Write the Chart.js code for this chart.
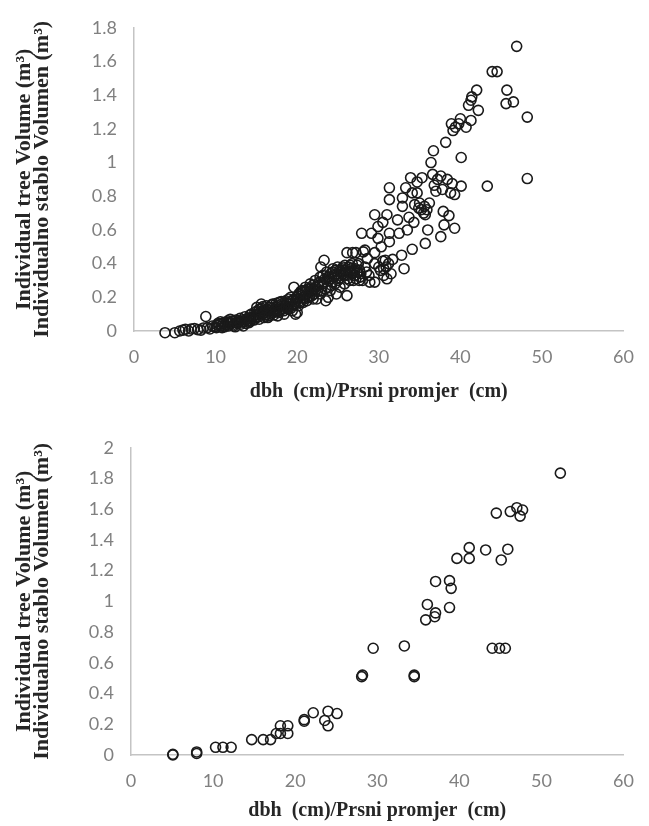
<!DOCTYPE html>
<html>
<head>
<meta charset="utf-8">
<script src="https://cdn.jsdelivr.net/npm/chart.js@4"></script>
<style>
  html, body { margin: 0; padding: 0; background: #fff; }
  #wrap { position: relative; width: 649px; height: 826px; }
  .box { position: absolute; left: 0; width: 649px; }
</style>
</head>
<body>
<div id="wrap">
  <div class="box" style="top:0;height:415px"><canvas id="topChart"></canvas></div>
  <div class="box" style="top:420px;height:406px"><canvas id="bottomChart"></canvas></div>
</div>
<script>
// axis text
const xTitle = 'dbh  (cm)/Prsni promjer  (cm)';
const yTitle = ['Individual tree Volume (m\u00b3)', 'Individualno stablo Volumen (m\u00b3)'];
const xTicks = [0, 10, 20, 30, 40, 50, 60];
const topYTicks = [0, 0.2, 0.4, 0.6, 0.8, 1, 1.2, 1.4, 1.6, 1.8];
const bottomYTicks = [0, 0.2, 0.4, 0.6, 0.8, 1, 1.2, 1.4, 1.6, 1.8, 2];

// upper chart: [dbh, volume]
const topSmall = [
  [3.8,-0.01],[5.0,-0.01],[5.6,0.0],[6.0,0.005],[6.3,0.01],[6.7,0.0],[7.0,0.012],[7.4,0.015],
  [7.8,0.008],[8.2,0.005],[8.5,0.018],[8.8,0.086],[9.0,0.02],[9.3,0.012],[9.6,0.03],[9.9,0.025],
  [10.1,0.02],[10.2,0.035],[10.3,0.045],[10.5,0.04],[10.6,0.055],[10.7,0.03],[10.8,0.02],[10.9,0.045],
  [11.0,0.05],[11.1,0.025],[11.2,0.035],[11.4,0.05],[11.5,0.06],[11.6,0.03],[11.7,0.045],[11.8,0.07],
  [11.9,0.045],[12.0,0.055],[12.1,0.06],[12.2,0.03],[12.3,0.04],[12.5,0.065],[12.6,0.05],[12.7,0.045],
  [12.9,0.055],[13.0,0.075],[13.1,0.04],[13.2,0.055],[13.3,0.065],[13.4,0.03],[13.5,0.055],[13.6,0.085],
  [13.8,0.07],[13.9,0.06],[14.0,0.075],[14.2,0.095],[14.3,0.06],[14.5,0.075],[14.6,0.085],[14.8,0.11],
  [14.9,0.095]
];
const topMid = [
  [15.0,0.08],[15.1,0.12],[15.2,0.1],[15.3,0.085],[15.4,0.13],[15.5,0.11],[15.6,0.16],[15.7,0.1],
  [15.8,0.145],[15.9,0.125],[16.0,0.11],[16.1,0.095],[16.2,0.12],[16.3,0.13],[16.4,0.08],[16.5,0.105],
  [16.6,0.14],[16.7,0.12],[16.8,0.1],[16.9,0.135],[17.0,0.16],[17.1,0.11],[17.2,0.12],[17.3,0.13],
  [17.4,0.145],[17.5,0.115],[17.6,0.09],[17.7,0.15],[17.8,0.17],[17.9,0.12],[18.0,0.13],[18.1,0.16],
  [18.2,0.15],[18.3,0.135],[18.4,0.1],[18.5,0.15],[18.6,0.18],[18.7,0.165],[18.8,0.14],[18.9,0.13],
  [19.0,0.16],[19.1,0.175],[19.2,0.2],[19.3,0.15],[19.4,0.12],[19.5,0.185],[19.6,0.26],[19.7,0.16],
  [19.8,0.1],[19.9,0.2],[20.0,0.11],[20.0,0.19],[20.1,0.205],[20.2,0.22],[20.3,0.18],[20.4,0.17],
  [20.5,0.21],[20.6,0.24],[20.7,0.23],[20.8,0.2],[20.9,0.19],[21.0,0.26],[21.1,0.215],[21.2,0.18],
  [21.3,0.25],[21.4,0.23],[21.5,0.2],[21.6,0.28],[21.7,0.24],[21.8,0.21],[21.9,0.27],[22.0,0.25],
  [22.1,0.22],[22.2,0.3],[22.3,0.26],[22.4,0.19],[22.5,0.235],[22.6,0.27],[22.7,0.29],[22.8,0.32],
  [22.9,0.38],[23.0,0.24],[23.1,0.28],[23.2,0.29],[23.3,0.42],[23.4,0.31],[23.5,0.18],[23.6,0.35],
  [23.7,0.26],[23.8,0.2],[23.9,0.3],[24.0,0.31],[24.1,0.34],[24.2,0.27],[24.3,0.29],[24.4,0.37],
  [24.5,0.32],[24.6,0.33],[24.7,0.36],[24.8,0.22],[24.9,0.34],[25.0,0.3],[25.1,0.31],[25.2,0.36],
  [25.3,0.35],[25.4,0.33],[25.5,0.37],[25.6,0.38],[25.7,0.33],[25.8,0.28],[25.9,0.36],[26.0,0.35],
  [26.1,0.21],[26.1,0.465],[26.2,0.31],[26.3,0.38],[26.4,0.35],[26.5,0.39],[26.6,0.37],[26.7,0.34],
  [26.8,0.465],[26.9,0.3]
];
const topDense = [
  [12.4,0.025],[12.8,0.06],[13.7,0.045],[14.1,0.05],[14.4,0.1],[14.7,0.065],[15.05,0.14],[15.35,0.07],
  [15.65,0.135],[15.95,0.08],[16.25,0.15],[16.55,0.09],[16.85,0.155],[17.15,0.095],[17.45,0.165],[17.75,0.11],
  [18.05,0.175],[18.35,0.12],[18.65,0.14],[18.95,0.19],[19.25,0.135],[19.55,0.15],[19.85,0.175],[20.15,0.15],
  [20.45,0.235],[20.75,0.17],[21.05,0.235],[21.35,0.2],[21.65,0.255],[21.95,0.19],[22.25,0.24],[22.55,0.28],
  [22.85,0.22],[23.15,0.33],[23.45,0.25],[23.75,0.32],[24.05,0.24],[24.35,0.35],[24.65,0.28],[24.95,0.38],
  [25.25,0.26],[25.55,0.34],[25.85,0.39],[26.15,0.33],[26.45,0.3],[26.75,0.4],[27.05,0.33],[27.35,0.39],
  [27.65,0.36],[28.5,0.35],[28.8,0.33]
];
const topLarge = [
  [27.0,0.36],[27.1,0.37],[27.2,0.31],[27.2,0.465],[27.4,0.35],[27.5,0.4],[27.6,0.3],[27.7,0.32],
  [27.8,0.34],[27.9,0.58],[28.0,0.3],[28.1,0.47],[28.3,0.38],[28.6,0.43],[28.3,0.48],[28.9,0.29],
  [29.1,0.58],[29.5,0.29],[29.5,0.465],[29.5,0.4],[29.5,0.69],[29.9,0.55],[29.9,0.62],[30.0,0.38],
  [30.2,0.36],[30.3,0.5],[30.5,0.645],[30.5,0.415],[30.6,0.33],[30.6,0.37],[30.8,0.42],[30.9,0.38],
  [31.0,0.69],[31.0,0.31],[31.2,0.4],[31.3,0.58],[31.3,0.53],[31.3,0.78],[31.3,0.85],[31.5,0.34],
  [31.7,0.425],[32.3,0.66],[32.5,0.58],[32.8,0.45],[32.9,0.79],[32.9,0.74],[33.1,0.37],[33.3,0.85],
  [33.5,0.6],[33.7,0.675],[33.9,0.91],[34.1,0.82],[34.1,0.485],[34.3,0.645],[34.4,0.75],[34.7,0.82],
  [34.7,0.885],[34.9,0.73],[35.0,0.76],[35.2,0.72],[35.3,0.91],[35.5,0.7],[35.6,0.74],[35.7,0.69],
  [35.7,0.52],[35.9,0.72],[36.0,0.6],[36.2,0.76],[36.4,1.0],[36.6,0.93],[36.7,1.07],[36.8,0.865],
  [37.0,0.83],[37.2,0.9],[37.6,0.92],[37.6,0.56],[37.8,0.84],[37.9,0.71],[38.0,0.63],[38.2,1.12],
  [38.4,0.9],[38.6,0.685],[38.8,0.82],[38.9,1.23],[39.0,0.875],[39.1,1.19],[39.3,0.81],[39.3,0.61],
  [39.4,1.21],[39.8,1.23],[40.0,1.26],[40.1,1.03],[40.1,0.86],[40.7,1.21],[41.0,1.34],[41.3,1.25],
  [41.3,1.37],[41.4,1.39],[42.0,1.43],[42.2,1.31],[43.3,0.86],[43.9,1.54],[44.5,1.54],[45.6,1.35],
  [45.7,1.43],[46.5,1.36],[46.9,1.69],[48.2,1.27],[48.2,0.905]
];

// lower chart: [dbh, volume]
const bottomPoints = [
  [5.1,0.0],[5.1,0.005],[8.0,0.01],[8.0,0.02],[10.3,0.05],[11.2,0.05],[12.2,0.05],
  [14.7,0.1],[16.1,0.1],[17.0,0.1],[17.7,0.14],[18.2,0.19],[19.1,0.19],[18.2,0.14],[19.1,0.14],
  [21.1,0.22],[21.1,0.23],[22.2,0.275],[23.6,0.225],[24.0,0.285],[24.0,0.19],[25.1,0.27],
  [28.1,0.51],[28.2,0.52],[29.5,0.695],[33.3,0.71],[34.5,0.51],[34.5,0.52],
  [35.9,0.88],[36.1,0.98],[37.0,0.9],[37.1,0.925],[37.1,1.13],[38.8,0.96],[38.8,1.135],[39.0,1.085],
  [39.7,1.28],[41.2,1.35],[41.2,1.28],[43.2,1.335],[44.5,1.575],[44.0,0.695],[44.9,0.695],[45.6,0.695],
  [45.1,1.27],[45.9,1.34],[46.2,1.585],[47.0,1.61],[47.7,1.595],[47.4,1.555],[52.3,1.835]
];

const TICK_FONT = { family: 'Lato, "Liberation Sans", sans-serif', size: 18 };
const TITLE_FONT = { family: '"Liberation Serif", "DejaVu Serif", serif', size: 20, weight: 'bold' };
const Y_TITLE_FONT = { family: '"Liberation Serif", "DejaVu Serif", serif', size: 22, weight: 'bold', lineHeight: 0.84 };

function makeChart(id, points, opts) {
  return new Chart(document.getElementById(id), {
    type: 'scatter',
    data: {
      datasets: [{
        data: points.map(p => ({ x: p[0], y: p[1] })),
        pointStyle: 'circle',
        pointRadius: opts.radius,
        pointBorderWidth: 1.6,
        pointBorderColor: '#1a1a1a',
        pointBackgroundColor: 'rgba(0,0,0,0)',
        clip: false
      }]
    },
    options: {
      responsive: true,
      maintainAspectRatio: false,
      animation: false,
      layout: { padding: { left: 0, right: opts.padRight, top: opts.padTop, bottom: 0 } },
      plugins: { legend: { display: false }, tooltip: { enabled: false } },
      scales: {
        x: {
          type: 'linear', min: 0, max: 60,
          afterBuildTicks: s => { s.ticks = xTicks.map(v => ({ value: v })); },
          afterFit: s => { s.height = opts.xHeight; },
          grid: { display: false, drawTicks: false },
          border: { display: true, color: '#c4c4c4', width: 1.5 },
          ticks: { color: '#808080', font: TICK_FONT, padding: 15, maxRotation: 0, callback: v => String(v) },
          title: { display: true, text: xTitle, color: '#262626', font: TITLE_FONT,
                   padding: { top: 0, bottom: opts.xTitlePad } }
        },
        y: {
          type: 'linear', min: 0, max: opts.yMax,
          afterBuildTicks: s => { s.ticks = opts.yTicks.map(v => ({ value: v })); },
          afterFit: s => { s.width = opts.yWidth; },
          grid: { display: false, drawTicks: false },
          border: { display: true, color: '#c4c4c4', width: 1.5 },
          ticks: { color: '#808080', font: TICK_FONT, padding: 17, callback: v => String(v) },
          title: { display: true, text: yTitle, color: '#262626', font: Y_TITLE_FONT,
                   padding: { top: 15, bottom: 0 } }
        }
      }
    }
  });
}

makeChart('topChart', topSmall.concat(topMid, topDense, topLarge), {
  yMax: 1.8, yTicks: topYTicks, yWidth: 134, xHeight: 84,
  padTop: 17, padRight: 15, xTitlePad: 11, radius: 5
});
makeChart('bottomChart', bottomPoints, {
  yMax: 2, yTicks: bottomYTicks, yWidth: 131, xHeight: 71,
  padTop: 25, padRight: 19, xTitlePad: 3, radius: 5
});
</script>
</body>
</html>
